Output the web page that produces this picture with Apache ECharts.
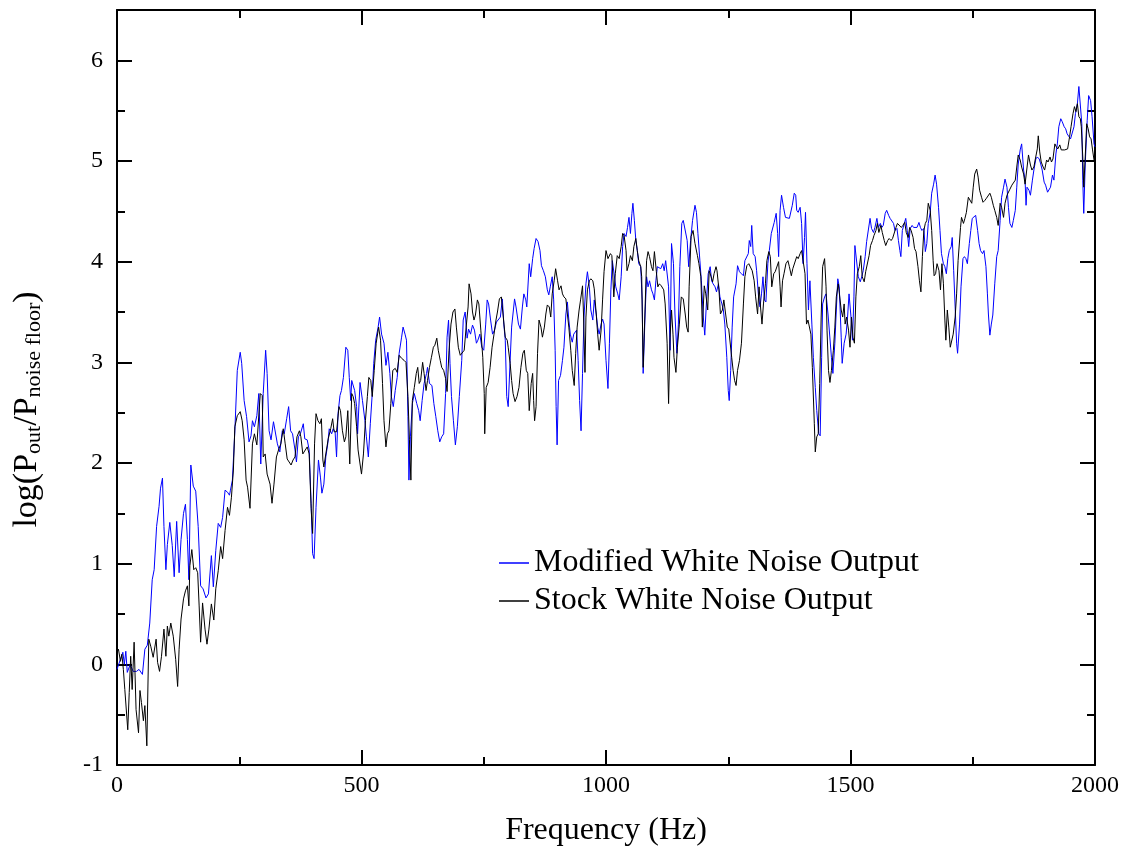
<!DOCTYPE html>
<html>
<head>
<meta charset="utf-8">
<script src="https://cdn.jsdelivr.net/npm/echarts@6/dist/echarts.min.js"></script>
<style>html,body{margin:0;padding:0;background:#fff}#c{width:1126px;height:856px}</style>
</head>
<body>
<div id="c"></div>
<script>
// Series names
const seriesNames = ['Modified White Noise Output', 'Stock White Noise Output'];

// [frequency (Hz), log(Pout/Pnoise floor)]
const modifiedData = [
[0,-0.05],[7,0.05],[12,0.12],[15,0],[18,0.13],[21,-0.08],[27,0],[33,-0.07],[40,-0.07],[45,-0.05],[52,-0.1],[57,0.15],[62,0.19],[67,0.41],[72,0.84],[76,0.94],[81,1.37],[86,1.57],[89,1.75],[93,1.85],[96,1.37],[100,0.94],[103,1.19],[108,1.41],[113,1.18],[117,0.87],[122,1.42],[127,0.91],[131,1.24],[136,1.5],[140,1.59],[144,1.24],[147,0.84],[151,1.98],[156,1.77],[161,1.72],[166,1.37],[171,0.78],[176,0.75],[182,0.66],[187,0.7],
[193,1.08],[197,0.77],[202,1.13],[207,1.4],[212,1.36],[216,1.46],[221,1.73],[226,1.71],[230,1.68],[232,1.73],[236,1.83],[241,2.32],[246,2.92],[252,3.1],[255,2.99],[260,2.62],[265,2.46],[270,2.21],[274,2.27],[277,2.42],[281,2.36],[286,2.47],[290,2.69],[294,1.99],[299,2.69],[304,3.12],[307,2.89],[311,2.32],[315,2.23],[320,2.41],[324,2.42],[328,2.19],[333,2.11],[338,2.32],[342,2.29],[347,2.44],[351,2.56],[355,2.32],[359,2.29],[364,2.13],[367,2.01],[371,2.26],[375,2.29],[381,2.39],[384,2.24],[389,2.23],[393,2.13],[397,1.6],[400,1.1],[403,1.05],
[407,1.56],[412,2.03],[416,1.86],[419,1.7],[423,1.79],[427,2.06],[431,2.19],[434,2.34],[439,2.29],[442,2.34],[446,2.31],[449,2.06],[452,2.49],[456,2.67],[459,2.72],[463,2.85],[468,3.15],[472,3.12],[475,2.85],[478,2.62],[480,2.82],[483,2.82],[486,2.72],[490,2.56],[492,2.29],[497,2.8],[502,2.62],[507,2.42],[510,2.26],[514,2.06],[518,2.39],[522,2.69],[525,2.99],[529,3.22],[534,3.35],[537,3.45],[541,3.28],[546,3.19],[550,2.97],[554,3.1],[558,2.89],[561,2.66],[565,2.56],[569,2.72],[573,2.85],[577,3.09],[582,3.25],[585,3.35],[589,3.28],[592,3.22],[595,2.46],[597,1.83],
[600,2.26],[604,2.59],[608,2.69],[613,2.59],[617,2.52],[620,2.42],[624,2.62],[628,2.79],[633,2.89],[635,2.95],[639,2.79],[644,2.77],[648,2.59],[652,2.46],[656,2.32],[660,2.21],[664,2.26],[668,2.29],[672,2.69],[675,3.25],[678,3.42],[681,2.99],[684,2.66],[688,2.42],[692,2.18],[696,2.36],[700,2.66],[705,3.02],[708,3.42],[712,3.5],[716,3.24],[719,3.33],[723,3.28],[727,3.37],[731,3.32],[735,3.19],[738,3.22],[742,3.28],[746,3.15],[750,3.12],[754,3.38],[757,3.62],[760,3.58],[764,3.42],[768,3.28],[772,3.32],[776,3.4],[780,3.4],[784,3.45],[788,3.63],[791,3.38],[794,3.22],[797,2.66],[800,2.56],
[804,3.02],[807,3.35],[813,3.63],[816,3.55],[821,3.38],[825,3.33],[829,3.55],[832,3.68],[836,3.62],[838,3.55],[843,3.98],[846,3.85],[850,4.03],[853,4.13],[857,4.23],[861,4.2],[865,4.11],[868,3.96],[872,3.91],[876,3.85],[880,3.72],[883,3.67],[886,3.75],[890,3.85],[893,3.62],[896,3.12],[898,2.56],[900,2.18],[903,2.82],[907,2.87],[911,3.02],[914,3.15],[918,3.48],[921,3.6],[924,3.42],[927,3.28],[931,3.2],[934,3.28],[938,3.27],[940,3.32],[943,3.02],[946,2.62],[949,2.32],[952,2.89],[955,3.45],[959,3.78],[962,3.9],[966,3.75],[969,3.52],[973,3.42],[976,3.62],[980,3.48],[983,3.35],[986,3.28],[990,3.38],[993,3.43],[996,3.38],[1000,3.02],[1004,2.74],[1007,3.19],
[1010,3.72],[1013,4.01],[1017,4.01],[1020,3.75],[1024,3.68],[1027,3.62],[1031,3.85],[1034,4.15],[1037,4.28],[1041,4.25],[1044,4.34],[1047,4.44],[1050,4.28],[1053,4.48],[1055,4.58],[1058,4.41],[1061,4.21],[1064,4.11],[1067,3.98],[1071,3.95],[1074,3.62],[1076,2.89],[1080,3.48],[1083,3.85],[1086,3.75],[1089,3.81],[1093,3.72],[1096,3.68],[1099,3.62],[1102,3.81],[1105,3.95],[1109,3.96],[1112,3.93],[1116,3.98],[1119,3.91],[1122,4.01],[1126,4.01],[1128,3.75],[1131,3.12],[1134,4.18],[1138,3.98],[1141,3.48],[1145,3.09],[1148,3.38],[1151,3.95],[1155,4.38],[1158,4.41],[1162,4.41],[1166,4.21],[1169,3.95],[1173,4.21],[1177,4.41],[1182,4.56],[1185,4.49],[1188,4.28],[1192,4.01],[1195,3.81],
[1199,3.45],[1202,3.27],[1206,3.65],[1209,3.88],[1213,3.95],[1216,3.81],[1219,3.78],[1223,3.75],[1226,3.7],[1230,3.78],[1233,3.65],[1237,3.58],[1240,3.52],[1243,3.38],[1247,3.05],[1250,2.72],[1252,2.62],[1255,2.92],[1258,3.35],[1261,3.65],[1266,3.78],[1269,3.96],[1273,3.9],[1277,3.88],[1281,3.86],[1284,4.01],[1288,4.0],[1291,4.08],[1293,4.21],[1296,4.15],[1298,4.36],[1301,4.08],[1305,4.05],[1308,3.91],[1312,3.65],[1315,3.55],[1318,3.68],[1321,3.85],[1324,3.62],[1327,3.6],[1331,3.98],[1334,4.11],[1338,4.28],[1341,4.29],[1344,4.39],[1348,4.48],[1351,4.28],[1353,4.05],[1356,4.51],[1359,4.66],[1363,4.54],[1367,4.44],[1371,4.43],[1375,4.43],[1378,4.44],[1381,4.56],[1385,4.68],[1388,4.66],
[1390,4.51],[1393,4.49],[1397,4.54],[1400,4.38],[1403,3.98],[1406,4.24],[1408,4.49],[1411,3.98],[1414,3.52],[1417,3.81],[1421,3.38],[1424,3.05],[1428,2.75],[1431,2.52],[1435,2.29],[1438,2.27],[1441,3.05],[1443,3.58],[1447,3.65],[1450,3.68],[1454,3.48],[1458,3.47],[1461,3.05],[1464,2.89],[1468,3.19],[1471,3.52],[1474,3.83],[1477,3.75],[1481,3.25],[1483,2.99],[1487,3.19],[1491,3.28],[1494,3.45],[1497,3.68],[1501,3.45],[1504,3.22],[1507,3.65],[1509,4.16],[1513,4.15],[1516,3.85],[1520,3.8],[1523,3.85],[1526,3.91],[1530,4.05],[1533,4.2],[1537,4.2],[1540,4.43],[1543,4.33],[1547,4.29],[1550,4.34],[1554,4.43],[1557,4.34],[1561,4.38],[1564,4.34],[1567,4.36],[1571,4.48],[1574,4.51],[1578,4.46],[1581,4.43],[1585,4.44],[1588,4.38],[1591,4.31],[1595,4.33],[1598,4.21],
[1601,4.11],[1603,4.05],[1606,4.31],[1610,4.38],[1613,4.43],[1616,4.31],[1619,4.15],[1622,4.33],[1626,4.36],[1629,4.34],[1633,4.34],[1636,4.34],[1640,4.39],[1643,4.34],[1646,4.31],[1650,4.33],[1653,4.1],[1656,4.18],[1659,4.38],[1663,4.49],[1666,4.68],[1670,4.77],[1673,4.86],[1676,4.77],[1680,4.54],[1683,4.31],[1686,4.08],[1690,3.98],[1693,3.95],[1696,3.88],[1699,4.03],[1702,4.11],[1706,4.15],[1708,4.24],[1711,3.91],[1714,3.55],[1717,3.19],[1719,3.09],[1723,3.38],[1726,3.75],[1730,4.03],[1733,4.05],[1736,4.03],[1739,3.98],[1743,4.18],[1746,4.31],[1749,4.43],[1753,4.44],[1756,4.46],[1760,4.31],[1763,4.18],[1766,4.11],[1770,4.08],[1773,4.11],[1777,3.95],[1780,3.68],[1782,3.48],[1785,3.27],[1788,3.38],[1791,3.47],[1795,3.78],
[1799,4.05],[1802,4.11],[1806,4.41],[1809,4.64],[1813,4.74],[1816,4.82],[1820,4.74],[1823,4.54],[1826,4.38],[1830,4.34],[1833,4.41],[1837,4.51],[1840,4.74],[1843,4.97],[1847,5.11],[1850,5.17],[1854,4.91],[1857,4.81],[1859,4.56],[1861,4.74],[1865,4.71],[1868,4.66],[1872,4.81],[1875,4.91],[1879,5.02],[1882,5.04],[1886,5.02],[1889,4.97],[1892,4.91],[1896,4.79],[1899,4.76],[1903,4.69],[1906,4.69],[1909,4.74],[1913,4.86],[1916,4.81],[1920,5.07],[1923,5.17],[1926,5.34],[1930,5.42],[1933,5.39],[1937,5.34],[1940,5.32],[1943,5.27],[1947,5.24],[1950,5.22],[1953,5.22],[1957,5.34],[1960,5.47],[1964,5.57],[1967,5.74],[1971,5.75],[1973,5.37],[1975,4.81],[1977,4.48],[1980,4.97],[1984,5.4],[1987,5.65],[1991,5.6],[1994,5.44],[1998,5.17],[2000,5.14]
];

const stockData = [
[0,0.12],[3,0.15],[7,0.03],[10,0.1],[13,-0.05],[16,-0.25],[22,-0.65],[25,-0.28],[28,0.08],[31,-0.25],[35,0.22],[39,-0.45],[44,-0.68],[47,-0.26],[50,-0.38],[54,-0.56],[57,-0.41],[61,-0.81],[65,0.25],[69,0.18],[74,0.07],[80,0.25],[83,0.02],[87,-0.07],[91,0.08],[96,0.35],[100,0.08],[103,0.38],[106,0.28],[110,0.41],[115,0.28],[120,0.05],[124,-0.22],[127,0.15],[131,0.45],[136,0.65],[140,0.73],[144,0.78],[147,0.58],[149,0.98],[153,1.14],[157,0.94],[161,0.96],[165,0.91],[168,0.58],[171,0.22],[175,0.61],[180,0.35],[184,0.2],[188,0.35],
[193,0.6],[198,0.44],[202,0.75],[207,0.93],[212,1.17],[216,1.05],[221,1.33],[226,1.56],[230,1.48],[234,1.66],[238,1.93],[241,2.36],[246,2.47],[252,2.51],[256,2.42],[260,2.23],[264,1.83],[267,1.76],[272,1.55],[277,2.19],[281,2.29],[286,2.18],[290,2.18],[293,2.69],[297,2.67],[299,2.06],[303,2.09],[307,1.89],[313,1.79],[317,1.6],[321,1.79],[326,2.06],[331,2.14],[335,2.19],[340,2.34],[344,2.19],[348,2.04],[352,2.01],[356,1.98],[360,2.03],[364,2.06],[368,2.26],[373,2.32],[376,2.26],[380,2.09],[384,2.08],[389,2.16],[393,2.09],[397,1.55],[400,1.3],
[404,2.19],[407,2.49],[411,2.42],[415,2.39],[418,2.44],[421,2.03],[423,1.96],[427,2.09],[432,2.24],[437,2.34],[441,2.44],[444,2.31],[449,2.31],[454,2.56],[457,2.52],[461,2.32],[465,2.21],[468,2.26],[472,2.52],[476,1.99],[480,2.69],[483,2.66],[486,2.59],[490,2.36],[493,2.13],[497,1.99],[500,1.89],[504,2.09],[508,2.42],[512,2.66],[515,2.85],[519,2.82],[522,2.66],[526,2.92],[530,3.19],[535,3.35],[539,3.22],[543,2.79],[546,2.42],[550,2.16],[553,2.29],[556,2.32],[560,2.59],[564,2.92],[569,2.94],[573,2.9],[577,3.07],[582,3.04],[587,3.02],[591,3.0],[595,2.66],[598,2.23],[601,1.83],
[604,2.62],[608,2.75],[612,2.89],[615,2.95],[618,2.79],[621,2.82],[625,3.0],[628,2.89],[632,2.72],[635,2.82],[639,2.95],[643,3.05],[647,3.15],[650,3.17],[654,3.24],[657,3.12],[661,3.02],[664,2.95],[668,2.92],[672,2.84],[675,2.71],[679,3.12],[683,3.38],[687,3.5],[691,3.53],[694,3.35],[698,3.15],[702,3.07],[706,3.07],[710,3.12],[714,3.35],[718,3.55],[720,3.78],[724,3.68],[727,3.5],[730,3.42],[733,3.47],[737,3.62],[740,3.58],[744,3.32],[748,3.05],[751,2.69],[752,2.29],[755,2.75],[759,2.8],[763,2.95],[767,3.15],[771,3.28],[775,3.42],[778,3.5],[782,3.63],[786,3.65],[790,3.45],[794,3.25],[798,3.22],
[800,3.15],[804,2.99],[807,2.82],[810,2.69],[814,2.61],[818,2.66],[822,2.75],[826,2.95],[830,3.09],[833,3.12],[837,2.92],[840,2.89],[843,2.52],[847,2.79],[850,2.89],[852,2.62],[854,2.42],[857,2.56],[860,3.09],[863,3.42],[867,3.35],[870,3.25],[874,3.35],[877,3.48],[880,3.57],[884,3.55],[887,3.45],[890,3.68],[894,3.81],[897,3.93],[901,3.81],[904,3.72],[908,3.76],[911,3.68],[914,3.65],[918,3.63],[921,3.48],[924,3.35],[928,3.12],[931,2.92],[935,2.77],[938,3.09],[941,3.35],[945,3.52],[948,3.62],[952,3.76],[954,3.48],[957,2.9],[959,3.45],[962,3.72],[966,3.81],[969,3.83],[973,3.81],[976,3.73],[980,3.48],[983,3.28],[986,3.12],[990,3.32],[993,3.62],[996,3.9],[1000,4.11],[1004,4.03],
[1009,4.08],[1012,4.06],[1016,3.65],[1019,3.88],[1023,4.06],[1027,4.03],[1031,4.15],[1034,4.28],[1037,4.26],[1041,4.11],[1043,3.91],[1047,3.98],[1050,4.06],[1054,4.01],[1057,4.15],[1061,4.23],[1064,4.11],[1067,4.01],[1071,3.95],[1073,3.85],[1076,2.95],[1080,3.55],[1083,4.01],[1086,4.1],[1089,4.05],[1093,3.95],[1096,3.91],[1099,4.1],[1103,3.9],[1106,3.75],[1109,3.78],[1113,3.76],[1118,3.72],[1121,3.58],[1125,3.19],[1128,2.59],[1131,3.25],[1134,3.52],[1137,3.28],[1139,3.05],[1143,2.9],[1146,3.15],[1150,3.38],[1154,3.65],[1158,3.63],[1162,3.48],[1165,3.35],[1168,3.3],[1170,3.75],[1174,4.25],[1178,4.31],[1182,4.18],[1187,4.06],[1190,3.98],[1194,3.85],[1197,3.35],
[1201,3.76],[1204,3.68],[1208,3.52],[1211,3.91],[1215,3.85],[1218,3.8],[1221,3.88],[1225,3.95],[1227,3.91],[1231,3.72],[1234,3.48],[1238,3.52],[1241,3.62],[1245,3.62],[1248,3.35],[1251,3.33],[1255,3.32],[1257,3.05],[1260,2.92],[1263,2.82],[1266,2.77],[1269,2.92],[1273,3.02],[1277,3.19],[1281,3.58],[1284,3.85],[1288,3.96],[1292,3.98],[1296,3.98],[1299,3.91],[1303,3.81],[1306,3.65],[1310,3.48],[1313,3.75],[1316,3.55],[1319,3.38],[1322,3.58],[1326,3.78],[1329,4.01],[1333,4.1],[1336,4.05],[1339,3.75],[1343,3.88],[1346,3.9],[1349,3.91],[1353,4.0],[1356,3.75],[1358,3.55],[1361,3.81],[1364,3.88],[1368,3.98],[1372,4.01],[1375,3.95],[1379,3.86],[1382,3.93],[1386,3.93],
[1390,4.05],[1393,4.03],[1397,4.08],[1400,4.11],[1404,4.1],[1407,3.88],[1410,3.38],[1413,3.42],[1416,3.43],[1419,3.28],[1422,2.95],[1426,2.39],[1428,2.11],[1431,2.26],[1434,2.29],[1437,2.79],[1440,3.45],[1443,3.95],[1447,4.03],[1450,3.75],[1452,3.32],[1455,2.92],[1458,2.8],[1461,2.92],[1465,3.12],[1468,3.35],[1471,3.65],[1475,3.78],[1478,3.78],[1481,3.52],[1484,3.45],[1487,3.58],[1489,3.38],[1492,3.45],[1496,3.32],[1499,3.15],[1502,3.45],[1505,3.25],[1508,3.19],[1511,3.65],[1514,3.88],[1518,3.95],[1521,4.06],[1524,3.85],[1528,3.8],[1531,3.9],[1535,3.91],[1538,4.06],[1541,4.16],[1545,4.21],[1548,4.26],[1552,4.31],[1555,4.38],[1558,4.29],[1562,4.36],[1565,4.29],[1569,4.21],[1572,4.16],[1576,4.21],[1579,4.23],[1583,4.21],[1586,4.23],[1589,4.23],[1593,4.34],[1596,4.38],[1600,4.39],
[1604,4.34],[1607,4.36],[1611,4.39],[1614,4.29],[1618,4.24],[1621,4.34],[1624,4.31],[1628,4.24],[1631,4.13],[1634,4.1],[1638,3.95],[1641,3.81],[1644,3.7],[1647,4.05],[1650,4.31],[1653,4.38],[1656,4.41],[1659,4.58],[1663,4.51],[1666,4.31],[1669,4.01],[1671,3.86],[1674,3.88],[1677,3.98],[1681,3.91],[1684,3.72],[1687,3.98],[1690,3.78],[1693,3.42],[1695,3.22],[1698,3.52],[1701,3.35],[1704,3.15],[1707,3.15],[1710,3.28],[1714,3.45],[1717,3.68],[1720,4.01],[1725,4.34],[1727,4.44],[1731,4.38],[1734,4.43],[1737,4.49],[1741,4.64],[1744,4.64],[1748,4.58],[1751,4.74],[1754,4.87],[1758,4.92],[1761,4.84],[1764,4.71],[1768,4.64],[1771,4.59],[1775,4.61],[1778,4.63],[1782,4.64],[1785,4.68],[1788,4.64],[1792,4.56],[1795,4.51],
[1799,4.44],[1802,4.36],[1806,4.58],[1809,4.54],[1813,4.44],[1816,4.58],[1820,4.66],[1823,4.66],[1826,4.72],[1830,4.76],[1833,4.76],[1837,4.81],[1840,4.94],[1843,5.06],[1847,5.01],[1850,4.94],[1854,4.87],[1857,4.77],[1861,4.77],[1864,5.06],[1868,4.96],[1871,4.91],[1875,4.94],[1878,5.02],[1882,5.12],[1884,5.25],[1887,5.09],[1890,4.99],[1894,4.94],[1897,4.91],[1901,5.01],[1904,4.99],[1908,5.04],[1911,4.99],[1914,5.02],[1918,5.17],[1921,5.14],[1924,5.12],[1928,5.16],[1931,5.11],[1935,5.12],[1938,5.11],[1941,5.11],[1944,5.12],[1948,5.24],[1951,5.34],[1955,5.47],[1958,5.54],[1961,5.49],[1964,5.57],[1967,5.44],[1970,5.42],[1972,5.34],[1975,5.04],[1977,4.74],[1980,5.04],[1983,5.37],[1986,5.32],[1989,5.24],[1992,5.22],[1995,5.11],[1998,5.01],[2000,4.97]
];

// Axis settings
const xRange = [0, 2000], xStep = 500;
const yRange = [-1, 6.5], yStep = 1;

const FONT = '"Liberation Serif", "Times New Roman", serif';
const chart = echarts.init(document.getElementById('c'), null, {renderer: 'canvas'});

const axisCommon = {
  axisLine: {show: true, onZero: false, lineStyle: {color: '#000', width: 2}},
  axisTick: {show: true, inside: true, length: 15, lineStyle: {color: '#000', width: 2}},
  minorTick: {show: true, splitNumber: 2, length: 8, lineStyle: {color: '#000', width: 2}},
  splitLine: {show: false}
};

chart.setOption({
  animation: false,
  backgroundColor: '#fff',
  grid: {left: 117, right: 31, top: 10, bottom: 91, containLabel: false},
  legend: {
    orient: 'vertical', left: 494, top: 542, itemGap: 6,
    itemWidth: 30, itemHeight: 1.5, icon: 'rect',
    textStyle: {fontFamily: FONT, fontSize: 32, color: '#000'},
    data: seriesNames
  },
  xAxis: [
    Object.assign({}, axisCommon, {
      type: 'value', min: xRange[0], max: xRange[1], interval: xStep, position: 'bottom',
      axisLabel: {fontFamily: FONT, fontSize: 24, color: '#000', margin: 9, formatter: v => String(v)},
      name: 'Frequency (Hz)', nameLocation: 'middle', nameGap: 50,
      nameTextStyle: {fontFamily: FONT, fontSize: 32, color: '#000'}
    }),
    Object.assign({}, axisCommon, {
      type: 'value', min: xRange[0], max: xRange[1], interval: xStep, position: 'top',
      axisLabel: {show: false}
    })
  ],
  yAxis: [
    Object.assign({}, axisCommon, {
      type: 'value', min: yRange[0], max: yRange[1], interval: yStep, position: 'left',
      axisLabel: {fontFamily: FONT, fontSize: 24, color: '#000', margin: 14,
        formatter: v => (v > 6 ? '' : String(v))},
      name: 'log(P{s|out}/P{s|noise floor})', nameLocation: 'middle', nameGap: 72,
      nameTextStyle: {fontFamily: FONT, fontSize: 34, color: '#000', padding: [0, 44, 0, 0],
        rich: {s: {fontFamily: FONT, fontSize: 22, color: '#000', verticalAlign: 'bottom', lineHeight: 36}}}
    }),
    Object.assign({}, axisCommon, {
      type: 'value', min: yRange[0], max: yRange[1], interval: yStep, position: 'right',
      axisLabel: {show: false}
    })
  ],
  series: [
    {name: seriesNames[0], type: 'line', data: modifiedData, showSymbol: false, symbol: 'none',
     lineStyle: {color: '#0000ff', width: 1}, itemStyle: {color: '#0000ff'}, clip: true},
    {name: seriesNames[1], type: 'line', data: stockData, showSymbol: false, symbol: 'none',
     lineStyle: {color: '#000000', width: 1}, itemStyle: {color: '#000000'}, clip: true}
  ]
});
</script>
</body>
</html>
